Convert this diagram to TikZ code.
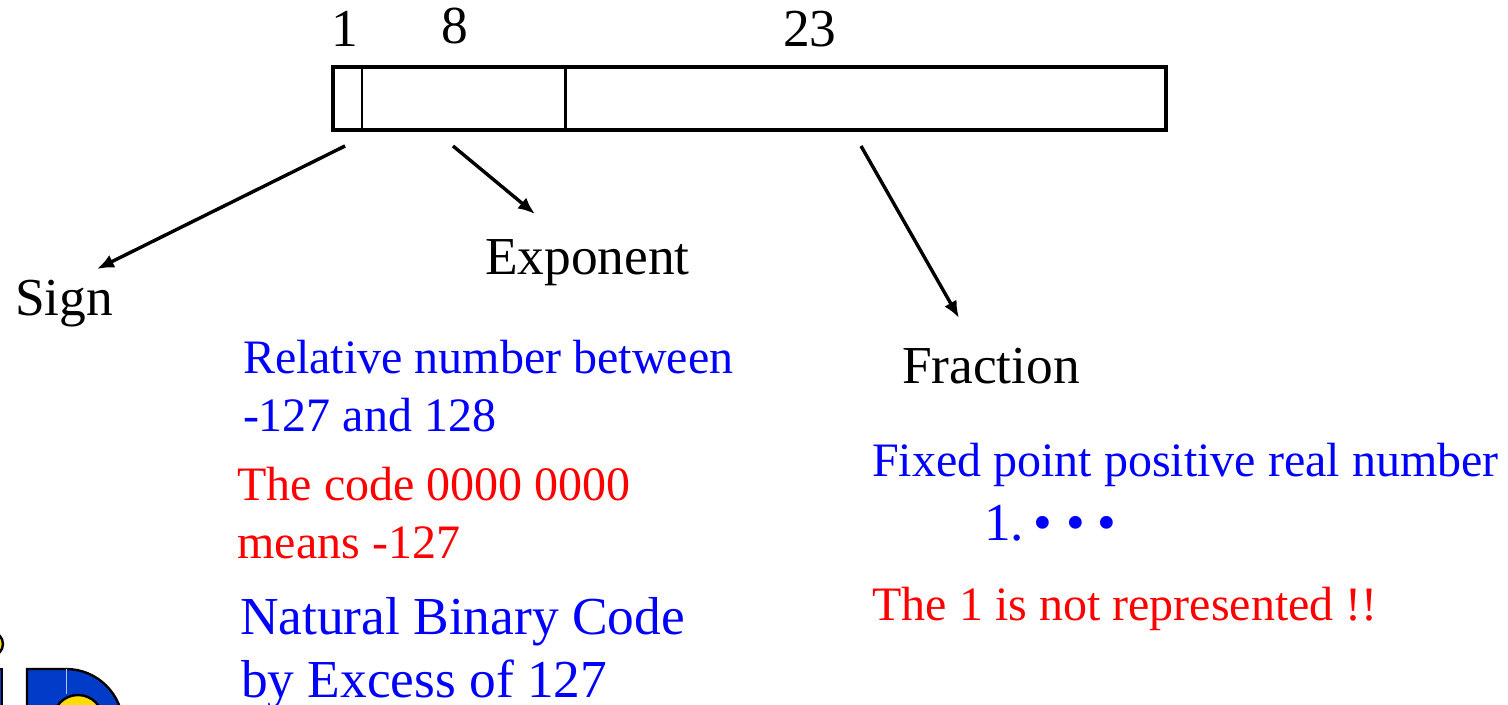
\documentclass[tikz,border=0pt]{standalone}
\usepackage{fontspec}
\setmainfont{Liberation Serif}
\usetikzlibrary{arrows.meta}
\definecolor{logoblue}{RGB}{0,60,200}
\definecolor{logoyellow}{RGB}{255,220,0}
\definecolor{txtblue}{RGB}{0,0,255}
\definecolor{txtred}{RGB}{255,0,0}
\tikzset{
  x=0.5pt,y=-0.5pt,
  lbl/.style={anchor=base west,inner sep=0pt,outer sep=0pt,font=\fontsize{26.7}{30}\selectfont},
  small/.style={anchor=base west,inner sep=0pt,outer sep=0pt,font=\fontsize{24}{28}\selectfont},
  arr/.style={-{Latex[length=8.5pt,width=7pt]},line width=1.7pt},
  logo/.style={draw=black,line width=1.2pt}
}
\begin{document}
\begin{tikzpicture}
\useasboundingbox (0,0) rectangle (1508,705);
% register
\coordinate (tl) at (333,67); \coordinate (br) at (1165.5,130);
\draw[line width=2pt] (tl) rectangle (br);
\coordinate (s1t) at (362,67); \coordinate (s1b) at (362,130);
\coordinate (s2t) at (565.5,67); \coordinate (s2b) at (565.5,130);
\draw[line width=1.2pt] (s1t) -- (s1b);
\draw[line width=1.5pt] (s2t) -- (s2b);
\node[lbl] (n1) at (331,47) {1};
\node[lbl] (n8) at (441,44) {8};
\node[lbl] (n23) at (783,47) {23};
\coordinate (a1) at (345,146); \coordinate (a1e) at (97,269);
\coordinate (a2) at (453,146); \coordinate (a2e) at (535,214);
\coordinate (a3) at (861,146); \coordinate (a3e) at (959,318);
\draw[arr] (a1) -- (a1e);
\draw[arr] (a2) -- (a2e);
\draw[arr] (a3) -- (a3e);
\node[lbl] (sign) at (15,316) {Sign};
\node[lbl] (exp) at (485,275) {Exponent};
\node[lbl] (frac) at (902,383) {Fraction};
\node[small,text=txtblue] (r1) at (243,373) {Relative number between};
\node[small,text=txtblue] (r2) at (243,431) {-127 and 128};
\node[small,text=txtred] (c1) at (237.5,500) {The code 0000 0000};
\node[small,text=txtred] (c2) at (237.5,558) {means -127};
\node[lbl,text=txtblue] (b1) at (240,634) {Natural Binary Code};
\node[lbl,text=txtblue] (b2) at (241,697) {by Excess of 127};
\node[small,text=txtblue] (f1) at (872,476) {Fixed point positive real number};
\node[lbl,text=txtblue] (f2) at (984,540) {1.};
\node[lbl,text=txtblue] (f3) at (1033,540) {•};
\node[lbl,text=txtblue] (f4) at (1066,540) {•};
\node[lbl,text=txtblue] (f5) at (1097,540) {•};
\node[small,text=txtred] (f6) at (872.5,620) {The 1 is not represented !!};
% logo, cut by the picture's lower edge
\begin{scope}
\clip (0,0) rectangle (1508,705);
\draw[logo,fill=logoyellow] (-9,644) circle (12);
\draw[logo,fill=logoblue] (-10,669) rectangle (2,720);
\draw[logo,fill=logoblue] (27,669) -- (66,669) arc[start angle=90,end angle=0,x radius=57,y radius=-57] -- (123,720) -- (27,720) -- cycle;
\draw[line width=0.4pt,color=white!70!logoblue] (66,669) -- (66,694);
\draw[logo,fill=logoyellow] (78,720) circle (25);
\end{scope}
\end{tikzpicture}
\end{document}
